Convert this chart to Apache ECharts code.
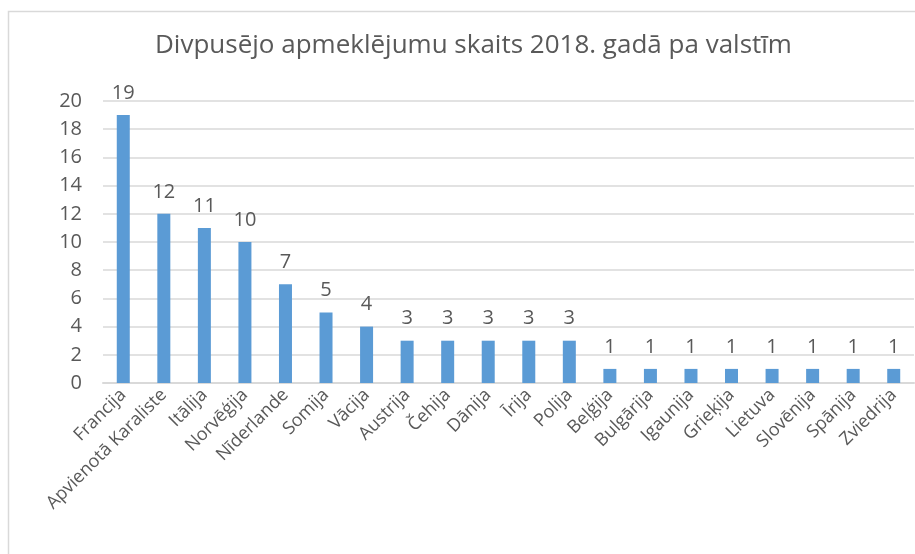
<!DOCTYPE html>
<html>
<head>
    <meta charset="UTF-8">
    <title>Divpusējo apmeklējumu skaits</title>
    <script src="https://cdn.jsdelivr.net/npm/echarts@6/dist/echarts.min.js"></script>
    <style>
        html, body { margin: 0; padding: 0; background: #fff; }
    </style>
</head>
<body>
<div id="chart" style="width:915px;height:554px;"></div>
<script type="text/javascript">
    var valstis = ['Francija', 'Apvienotā Karaliste', 'Itālija', 'Norvēģija', 'Nīderlande', 'Somija', 'Vācija',
        'Austrija', 'Čehija', 'Dānija', 'Īrija', 'Polija', 'Beļģija', 'Bulgārija', 'Igaunija', 'Grieķija',
        'Lietuva', 'Slovēnija', 'Spānija', 'Zviedrija'];
    var apmeklejumi = [19, 12, 11, 10, 7, 5, 4, 3, 3, 3, 3, 3, 1, 1, 1, 1, 1, 1, 1, 1];

    var font = 'Open Sans';
    var myChart = echarts.init(document.getElementById('chart'));

    myChart.setOption({
        animation: false,
        title: {
            text: 'Divpusējo apmeklējumu skaits 2018. gadā pa valstīm',
            left: 150,
            top: 28,
            textStyle: {color: '#595959', fontSize: 26, fontWeight: 'normal', fontFamily: font}
        },
        // rama ap diagrammu
        graphic: [{
            type: 'polyline',
            shape: {points: [[8.5, 554], [8.5, 11.5], [915, 11.5]]},
            style: {stroke: '#d9d9d9', lineWidth: 1.5, fill: null},
            silent: true
        }],
        grid: {left: 103, right: 1, top: 101, bottom: 171},
        xAxis: {
            type: 'category',
            data: valstis,
            axisLine: {lineStyle: {color: '#d9d9d9', width: 2}},
            axisTick: {show: false},
            axisLabel: {
                interval: 0, rotate: 45, color: '#595959', fontSize: 18, fontFamily: font, margin: 9
            }
        },
        yAxis: {
            type: 'value',
            min: 0, max: 20, interval: 2,
            axisLine: {show: false},
            axisTick: {show: false},
            splitLine: {lineStyle: {color: '#d9d9d9', width: 1.5}},
            axisLabel: {color: '#595959', fontSize: 20, fontFamily: font, margin: 21}
        },
        series: [{
            type: 'bar',
            data: apmeklejumi,
            barWidth: 13,
            itemStyle: {color: '#5b9bd5'},
            label: {
                show: true, position: 'top', distance: 12,
                color: '#595959', fontSize: 20, fontFamily: font
            }
        }]
    });
</script>
</body>
</html>
